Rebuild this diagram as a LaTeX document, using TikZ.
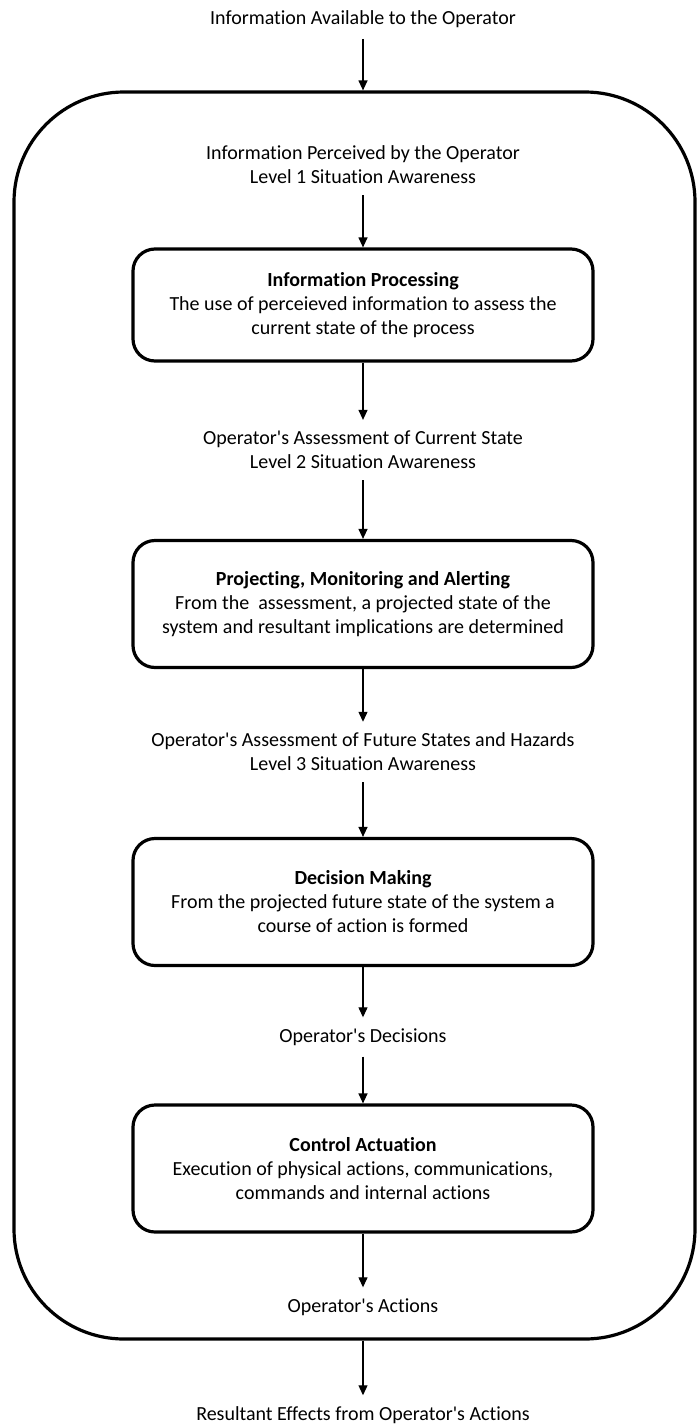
\documentclass[tikz,border=0pt]{standalone}
\usepackage{fontspec}
\setmainfont{Carlito}[Ligatures={TeXOff,CommonOff}]
\usetikzlibrary{arrows.meta}
\begin{document}
\begin{tikzpicture}[x=1pt,y=-1pt,
  every node/.style={font=\fontsize{20}{24}\selectfont},
  lbl/.style={align=center, inner xsep=0pt, inner ysep=11pt},
  stage/.style={draw, line width=3.2pt, rounded corners=22pt,
    minimum width=460pt, minimum height=127pt, align=center, inner sep=0pt},
  frame/.style={draw, line width=3.2pt, rounded corners=110pt,
    minimum width=681pt, minimum height=1247pt, inner sep=0pt},
  flow/.style={line width=1.2pt, -{Triangle[length=10pt,width=9pt]}}]
\useasboundingbox (0,0) rectangle (697,1427);

% operator boundary
\node[frame] (op) at (354.5,715.5) {};

% information states
\node[lbl] (avail) at (363,19) {Information Available to the Operator};
\node[lbl] (perc) at (363,165) {Information Perceived by the Operator\\Level 1 Situation Awareness};
\node[lbl] (cur) at (363,450) {Operator's Assessment of Current State\\Level 2 Situation Awareness};
\node[lbl] (fut) at (363,752) {Operator's Assessment of Future States and Hazards\\Level 3 Situation Awareness};
\node[lbl] (dec) at (363,1037) {Operator's Decisions};
\node[lbl] (act) at (363,1307) {Operator's Actions};
\node[lbl] (res) at (363,1415) {Resultant Effects from Operator's Actions};

% processing stages
\node[stage, minimum height=112pt] (s1) at (363,305)
  {\textbf{Information Processing}\\The use of perceieved information to assess the\\current state of the process};
\node[stage] (s2) at (363,604)
  {\textbf{Projecting, Monitoring and Alerting}\\From the \ assessment, a projected state of the\\system and resultant implications are determined};
\node[stage] (s3) at (363,902)
  {\textbf{Decision Making}\\From the projected future state of the system a\\course of action is formed};
\node[stage] (s4) at (363,1168.5)
  {\textbf{Control Actuation}\\Execution of physical actions, communications,\\commands and internal actions};

% flow
\draw[flow] (avail.south) -- (avail.south |- op.north);
\draw[flow] (perc) -- (s1);
\draw[flow] (s1) -- (cur);
\draw[flow] (cur) -- (s2);
\draw[flow] (s2) -- (fut);
\draw[flow] (fut) -- (s3);
\draw[flow] (s3) -- (dec);
\draw[flow] (dec) -- (s4);
\draw[flow] (s4) -- (act);
\draw[flow] (act.south |- op.south) -- (res);
\end{tikzpicture}
\end{document}
